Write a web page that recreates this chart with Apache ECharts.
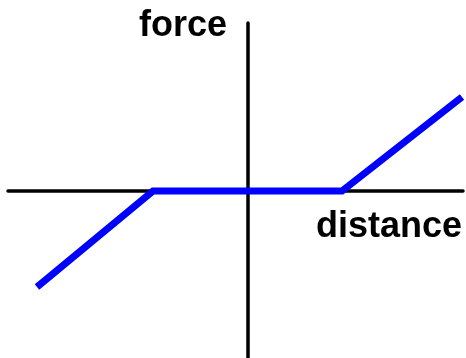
<!DOCTYPE html>
<html>
<head>
<meta charset="utf-8">
<script src="https://cdn.jsdelivr.net/npm/echarts@6/dist/echarts.min.js"></script>
<style>
  html, body { margin: 0; padding: 0; background: #fff; }
  #chart { width: 466px; height: 358px; }
</style>
</head>
<body>
<div id="chart"></div>
<script>
// piecewise force vs distance (dead zone around zero)
const distance = [-21.1, -9.5, 9.4, 21.4];
const force = [-9.6, 0, 0, 9.4];
const xLabel = 'distance';
const yLabel = 'force';

const chartDom = document.getElementById('chart');
const myChart = echarts.init(chartDom, null, { renderer: 'canvas' });

const labelFont = 'bold 36px "Liberation Sans", Arial, sans-serif';

const option = {
    animation: false,
    backgroundColor: '#ffffff',
    grid: { left: 8, right: 3, top: 23, bottom: 0 },
    xAxis: {
        type: 'value',
        min: -24,
        max: 21.5,
        axisLine: { onZero: true, lineStyle: { color: '#000', width: 3.5 } },
        axisTick: { show: false },
        axisLabel: { show: false },
        splitLine: { show: false }
    },
    yAxis: {
        type: 'value',
        min: -16.7,
        max: 16.8,
        axisLine: { show: true, onZero: true, lineStyle: { color: '#000', width: 3.5 } },
        axisTick: { show: false },
        axisLabel: { show: false },
        splitLine: { show: false }
    },
    graphic: [
        {
            type: 'text',
            x: 227,
            y: 26,
            style: { text: yLabel, font: labelFont, fill: '#000', textAlign: 'right', textVerticalAlign: 'middle' }
        },
        {
            type: 'text',
            x: 462,
            y: 227,
            style: { text: xLabel, font: labelFont, fill: '#000', textAlign: 'right', textVerticalAlign: 'middle' }
        }
    ],
    series: [
        {
            type: 'line',
            data: distance.map((d, i) => [d, force[i]]),
            symbol: 'none',
            lineStyle: { color: '#0000ff', width: 7, cap: 'butt', join: 'miter' }
        }
    ]
};

myChart.setOption(option);
</script>
</body>
</html>
